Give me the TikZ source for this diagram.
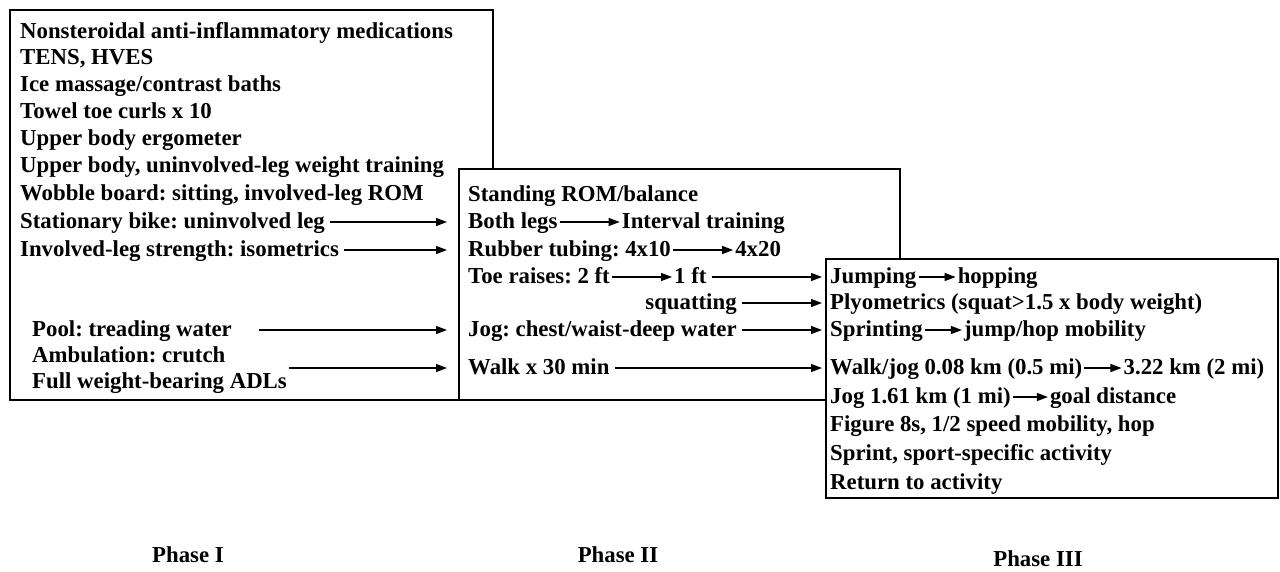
\documentclass[tikz,border=0pt]{standalone}
\usepackage{fontspec}
\setmainfont{Liberation Serif}
\usetikzlibrary{positioning,arrows.meta}

\begin{document}
\begin{tikzpicture}[x=1pt,y=-1pt,
    every node/.style={font=\fontsize{22.8}{27}\selectfont\bfseries\frenchspacing},
    txt/.style={anchor=west, inner xsep=2pt, inner ysep=0pt, text height=16pt, text depth=3pt},
    >={Triangle[length=11pt,width=8pt]},
    arr/.style={->, line width=1.2pt},
    panel/.style={draw, line width=1.5pt, fill=white}]
  \useasboundingbox (0,0) rectangle (1280,571);

  % phase I
  \draw[panel] (10,10) rectangle (493,400);
  \node[txt] (nsaid)  at (18,32)  {Nonsteroidal anti-inflammatory medications};
  \node[txt] (tens)   at (18,58)  {TENS, HVES};
  \node[txt] (ice)    at (18,85)  {Ice massage/contrast baths};
  \node[txt] (towel)  at (18,112) {Towel toe curls x 10};
  \node[txt] (ergo)   at (18,139) {Upper body ergometer};
  \node[txt] (upper)  at (18,166) {Upper body, uninvolved-leg weight training};
  \node[txt] (wobble) at (18,194) {Wobble board: sitting, involved-leg ROM};
  \node[txt] (bike)   at (18,222) {Stationary bike: uninvolved leg};
  \node[txt] (iso)    at (18,250) {Involved-leg strength: isometrics};
  \node[txt] (pool)   at (30,330) {Pool: treading water};
  \node[txt] (crutch) at (30,356) {Ambulation: crutch};
  \node[txt] (fullwb) at (30,382) {Full weight-bearing ADLs};

  % phase II
  \draw[panel] (459,169) rectangle (900,400);
  \node[txt] (standrom) at (466,195) {Standing ROM/balance};
  \node[txt] (bothlegs) at (466,222) {Both legs};
  \node[txt, right=60pt of bothlegs] (interval) {Interval training};
  \node[txt] (tube10) at (466,250) {Rubber tubing: 4x10};
  \node[txt, right=60pt of tube10] (tube20) {4x20};
  \node[txt] (toe2) at (466,277) {Toe raises: 2 ft};
  \node[txt, right=60pt of toe2] (toe1) {1 ft};
  \node[txt] (jogwater) at (466,330) {Jog: chest/waist-deep water};
  \node[txt, anchor=east] (squat) at (jogwater.east |- 0,303) {squatting};
  \node[txt] (walk30) at (466,368) {Walk x 30 min};

  % phase III
  \draw[panel] (826,259) rectangle (1278,498);
  \node[txt] (jump) at (828,277) {Jumping};
  \node[txt, right=37pt of jump] (hop) {hopping};
  \node[txt] (plyo) at (828,303) {Plyometrics (squat>1.5 x body weight)};
  \node[txt] (sprinting) at (828,330) {Sprinting};
  \node[txt, right=37pt of sprinting] (jumphop) {jump/hop mobility};
  \node[txt] (walkjog) at (828,368) {Walk/jog 0.08 km (0.5 mi)};
  \node[txt, right=37pt of walkjog] (km322) {3.22 km (2 mi)};
  \node[txt] (jog161) at (828,397) {Jog 1.61 km (1 mi)};
  \node[txt, right=35pt of jog161] (goal) {goal distance};
  \node[txt] (fig8) at (828,425) {Figure 8s, 1/2 speed mobility, hop};
  \node[txt] (sprint) at (828,454) {Sprint, sport-specific activity};
  \node[txt] (return) at (828,483) {Return to activity};

  % arrows
  \draw[arr, shorten <=3pt, shorten >=19pt] (bike) -- (bothlegs);
  \draw[arr, shorten <=3pt, shorten >=19pt] (iso) -- (tube10);
  \draw[arr, shorten <=25pt, shorten >=19pt] (pool) -- (jogwater);
  \draw[arr, shorten >=19pt] (fullwb.east |- walk30) -- (walk30);
  \draw[arr] (bothlegs) -- (interval);
  \draw[arr] (tube10) -- (tube20);
  \draw[arr] (toe2) -- (toe1);
  \draw[arr, shorten <=3pt, shorten >=6pt] (toe1) -- (jump);
  \draw[arr, shorten <=3pt, shorten >=6pt] (squat) -- (plyo);
  \draw[arr, shorten <=3pt, shorten >=6pt] (jogwater) -- (sprinting);
  \draw[arr, shorten <=3pt, shorten >=6pt] (walk30) -- (walkjog);
  \draw[arr] (jump) -- (hop);
  \draw[arr] (sprinting) -- (jumphop);
  \draw[arr] (walkjog) -- (km322);
  \draw[arr] (jog161) -- (goal);

  % labels
  \node (ph1) at (188,555) {Phase I};
  \node (ph2) at (618,555) {Phase II};
  \node (ph3) at (1038,559) {Phase III};
\end{tikzpicture}
\end{document}
